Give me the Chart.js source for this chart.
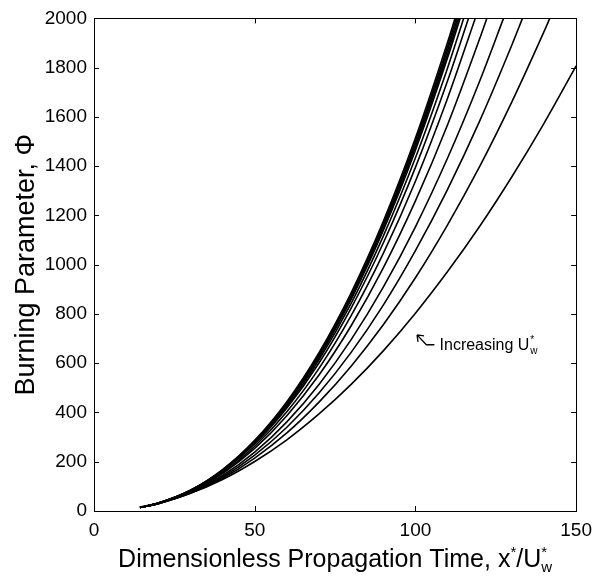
<!DOCTYPE html>
<html>
<head>
<meta charset="utf-8">
<script src="https://cdn.jsdelivr.net/npm/chart.js@4.4.1/dist/chart.umd.min.js"></script>
<style>
  html, body { margin: 0; padding: 0; background: #fff; }
  #wrap { width: 600px; height: 578px; }
</style>
</head>
<body>
<div id="wrap"><canvas id="myChart" width="600" height="578"></canvas></div>
<script>
// times (x*/U*w) at which the curves were read
var tiempos = [14.3, 20, 30, 40, 50, 60, 70, 80, 90, 100, 110, 120, 130, 140, 150];

// x where each curve leaves the top of the box (Phi = 2000); null = still inside at 150
var salidas = [112.3, 112.7, 113.1, 113.5, 113.9, 115.0, 116.5, 118.6, 122.2, 127.4, 133.3, 141.8, null];

// burning parameter, low U*w first
var phi1  = [14, 32, 84, 168, 287, 444, 643, 886, 1176, 1514, 1903];
var phi2  = [14, 32, 83, 166, 284, 440, 637, 878, 1166, 1501, 1886];
var phi3  = [14, 32, 84, 167, 284, 439, 635, 874, 1158, 1490, 1871];
var phi4  = [14, 32, 83, 165, 282, 436, 630, 866, 1148, 1477, 1855];
var phi5  = [14, 31, 82, 164, 279, 432, 624, 859, 1139, 1465, 1840];
var phi6  = [14, 31, 82, 162, 276, 425, 614, 843, 1116, 1434, 1799];
var phi7  = [14, 31, 81, 161, 272, 418, 601, 824, 1088, 1395, 1747];
var phi8  = [14, 31, 79, 156, 263, 403, 579, 793, 1046, 1339, 1676];
var phi9  = [14, 31, 78, 152, 254, 387, 552, 752, 987, 1259, 1568, 1918];
var phi10 = [14, 30, 75, 144, 239, 362, 514, 696, 909, 1154, 1433, 1746];
var phi11 = [14, 30, 73, 138, 227, 340, 479, 644, 836, 1057, 1306, 1584, 1892];
var phi12 = [15, 30, 72, 133, 215, 317, 442, 588, 756, 947, 1162, 1399, 1661, 1946];
var phi13 = [16, 32, 72, 128, 201, 289, 394, 514, 650, 803, 972, 1156, 1357, 1574, 1807];
var curvas = [phi1, phi2, phi3, phi4, phi5, phi6, phi7, phi8, phi9, phi10, phi11, phi12, phi13];

var ticksX = [0, 50, 100, 150];
var ticksY = [0, 200, 400, 600, 800, 1000, 1200, 1400, 1600, 1800, 2000];

var FAM = '"Liberation Sans", Arial, Helvetica, sans-serif';

var datasets = curvas.map(function(vals, i) {
  var pts = vals.map(function(v, j) { return {x: tiempos[j], y: v}; });
  if (salidas[i] !== null) pts.push({x: salidas[i], y: 2000});
  return {
    data: pts,
    borderColor: '#000',
    borderWidth: 1.6,
    pointRadius: 0,
    fill: false,
    cubicInterpolationMode: 'monotone'
  };
});

// draws pieces of text left to right; stack:true keeps the next piece at the same x
function textoCompuesto(ctx, partes, cx, y) {
  var total = 0, i;
  for (i = 0; i < partes.length; i++) {
    ctx.font = partes[i].f;
    partes[i].w = ctx.measureText(partes[i].t).width;
    if (partes[i].stack) continue;
    total += partes[i].w;
  }
  var x = cx - total / 2;
  ctx.textAlign = 'left';
  ctx.textBaseline = 'alphabetic';
  for (i = 0; i < partes.length; i++) {
    ctx.font = partes[i].f;
    ctx.fillText(partes[i].t, x, y + partes[i].dy);
    if (!partes[i].stack) x += partes[i].w;
  }
}

var marco = {
  id: 'marco',
  afterDraw: function(chart) {
    var ctx = chart.ctx, a = chart.chartArea;
    var sx = chart.scales.x, sy = chart.scales.y;
    ctx.save();
    ctx.strokeStyle = '#000';
    ctx.lineWidth = 1;
    ctx.strokeRect(Math.round(a.left) + 0.5, Math.round(a.top) + 0.5,
      Math.round(a.right - a.left), Math.round(a.bottom - a.top));
    ctx.beginPath();
    ticksX.forEach(function(v) {
      var px = Math.round(sx.getPixelForValue(v)) + 0.5;
      ctx.moveTo(px, a.bottom); ctx.lineTo(px, a.bottom - 5);
      ctx.moveTo(px, a.top); ctx.lineTo(px, a.top + 5);
    });
    ticksY.forEach(function(v) {
      var py = Math.round(sy.getPixelForValue(v)) + 0.5;
      ctx.moveTo(a.left, py); ctx.lineTo(a.left + 5, py);
      ctx.moveTo(a.right, py); ctx.lineTo(a.right - 5, py);
    });
    ctx.stroke();

    // arrow + label
    var tipX = sx.getPixelForValue(100.5), tipY = sy.getPixelForValue(715);
    var codoX = sx.getPixelForValue(103.4), codoY = sy.getPixelForValue(675);
    var finX = sx.getPixelForValue(105.9);
    ctx.lineWidth = 1.3;
    ctx.beginPath();
    ctx.moveTo(tipX, tipY); ctx.lineTo(codoX, codoY); ctx.lineTo(finX, codoY);
    ctx.moveTo(tipX, tipY); ctx.lineTo(tipX + 7, tipY + 1);
    ctx.moveTo(tipX, tipY); ctx.lineTo(tipX + 1, tipY + 7);
    ctx.stroke();
    ctx.fillStyle = '#000';
    var tx = sx.getPixelForValue(107.5), ty = sy.getPixelForValue(653);
    ctx.font = '16px ' + FAM;
    ctx.textAlign = 'left';
    ctx.fillText('Increasing U', tx, ty);
    var wU = ctx.measureText('Increasing U').width;
    ctx.font = '10px ' + FAM;
    ctx.fillText('*', tx + wU + 1, ty - 7);
    ctx.fillText('w', tx + wU + 1, ty + 4);

    // x axis title
    var big = '25px ' + FAM, small = '15px ' + FAM;
    textoCompuesto(ctx, [
      {t: 'Dimensionless Propagation Time, x', f: big, dy: 0},
      {t: '*', f: small, dy: -10},
      {t: '/U', f: big, dy: 0},
      {t: '*', f: small, dy: -10, stack: true},
      {t: 'w', f: small, dy: 5}
    ], (a.left + a.right) / 2, 567);
    ctx.restore();
  }
};

var ctx = document.getElementById('myChart').getContext('2d');
var chart = new Chart(ctx, {
  type: 'line',
  data: { datasets: datasets },
  options: {
    responsive: false,
    animation: false,
    devicePixelRatio: 1,
    layout: { padding: { top: 15, right: 22, left: 0, bottom: 0 } },
    plugins: { legend: { display: false }, tooltip: { enabled: false } },
    scales: {
      x: {
        type: 'linear',
        min: 0, max: 150,
        afterBuildTicks: function(s) { s.ticks = ticksX.map(function(v) { return {value: v}; }); },
        afterFit: function(s) { s.height = 67; },
        grid: { display: false, drawTicks: false },
        border: { display: false },
        ticks: {
          color: '#000', padding: 8, maxRotation: 0,
          font: { family: FAM, size: 19 },
          callback: function(v) { return String(v); }
        }
      },
      y: {
        min: 0, max: 2000,
        afterBuildTicks: function(s) { s.ticks = ticksY.map(function(v) { return {value: v}; }); },
        afterFit: function(s) { s.width = 94; },
        grid: { display: false, drawTicks: false },
        border: { display: false },
        ticks: {
          color: '#000', padding: 7,
          font: { family: FAM, size: 19 },
          callback: function(v) { return String(v); }
        },
        title: {
          display: true,
          text: 'Burning Parameter, \u03A6',
          color: '#000',
          font: { family: FAM, size: 27 },
          padding: { top: 10, bottom: 0 }
        }
      }
    }
  },
  plugins: [marco]
});
</script>
</body>
</html>
